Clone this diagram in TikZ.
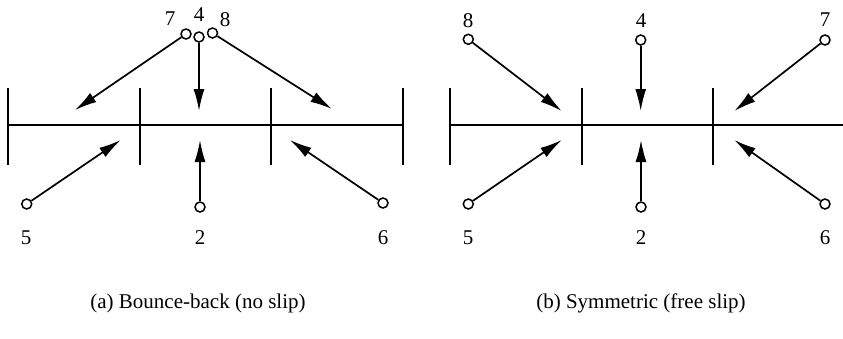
\documentclass[tikz,border=0pt]{standalone}
\usepackage{fontspec}
\setmainfont{Liberation Serif}
\usetikzlibrary{arrows.meta}
\begin{document}
\begin{tikzpicture}[x=1pt,y=-1pt,
  wall/.style={line width=1.9pt},
  ptc/.style={circle,draw,line width=1.5pt,fill=white,minimum size=10pt,inner sep=0pt},
  vec/.style={line width=1.7pt,-{Latex[length=22pt,width=11pt]}},
  lbl/.style={font=\fontsize{21}{25}\selectfont,inner sep=0pt},
  captext/.style={font=\fontsize{21}{25}\selectfont,inner sep=0pt}]
\useasboundingbox (0,0) rectangle (843,338);
% ---------- panel (a) ----------
\coordinate (aL) at (8,125);
\coordinate (aR) at (403,125);
\draw[wall] (aL) -- (aR);
\foreach \x [count=\i] in {8,140,271,403}{
  \coordinate (at\i t) at (\x,88);
  \coordinate (at\i b) at (\x,165);
  \draw[wall] (at\i t) -- (at\i b);
}
\node[ptc] (a7) at (186,34) {};
\node[ptc] (a8) at (212.5,33) {};
\node[ptc] (a4) at (199,37) {};
\node[ptc] (a5) at (26.7,204) {};
\node[ptc] (a2) at (200,207) {};
\node[ptc] (a6) at (383,203) {};
\coordinate (ta7) at (75,110);
\coordinate (ta4) at (199,111);
\coordinate (ta8) at (332,109);
\coordinate (ta5) at (120.7,140);
\coordinate (ta2) at (200,140);
\coordinate (ta6) at (290,140);
\draw[vec] (a7) -- (ta7);
\draw[vec] (a4) -- (ta4);
\draw[vec] (a8) -- (ta8);
\draw[vec] (a5) -- (ta5);
\draw[vec] (a2) -- (ta2);
\draw[vec] (a6) -- (ta6);
\node[lbl] (la7) at (170,19) {7};
\node[lbl] (la4) at (199,15) {4};
\node[lbl] (la8) at (225,20) {8};
\node[lbl] (la5) at (26,238) {5};
\node[lbl] (la2) at (200,238) {2};
\node[lbl] (la6) at (383,238) {6};
\node[captext] (capa) at (198,303) {(a) Bounce-back (no slip)};
% ---------- panel (b) ----------
\coordinate (bL) at (450,125);
\coordinate (bR) at (843,125);
\draw[wall] (bL) -- (bR);
\foreach \x [count=\i] in {450,582,713}{
  \coordinate (bt\i t) at (\x,88);
  \coordinate (bt\i b) at (\x,165);
  \draw[wall] (bt\i t) -- (bt\i b);
}
\node[ptc] (b8) at (468.3,39.3) {};
\node[ptc] (b4) at (640.7,40) {};
\node[ptc] (b7) at (825,40) {};
\node[ptc] (b5) at (468.3,204) {};
\node[ptc] (b2) at (641,207) {};
\node[ptc] (b6) at (825,204) {};
\coordinate (tb8) at (561.7,111);
\coordinate (tb4) at (640.7,111);
\coordinate (tb7) at (734.3,111);
\coordinate (tb5) at (561.7,140);
\coordinate (tb2) at (641,140);
\coordinate (tb6) at (734.3,140);
\draw[vec] (b8) -- (tb8);
\draw[vec] (b4) -- (tb4);
\draw[vec] (b7) -- (tb7);
\draw[vec] (b5) -- (tb5);
\draw[vec] (b2) -- (tb2);
\draw[vec] (b6) -- (tb6);
\node[lbl] (lb8) at (468,21) {8};
\node[lbl] (lb4) at (641,21) {4};
\node[lbl] (lb7) at (825,20) {7};
\node[lbl] (lb5) at (468,238) {5};
\node[lbl] (lb2) at (641,238) {2};
\node[lbl] (lb6) at (825,238) {6};
\node[captext] (capb) at (641,303) {(b) Symmetric (free slip)};
\end{tikzpicture}
\end{document}
